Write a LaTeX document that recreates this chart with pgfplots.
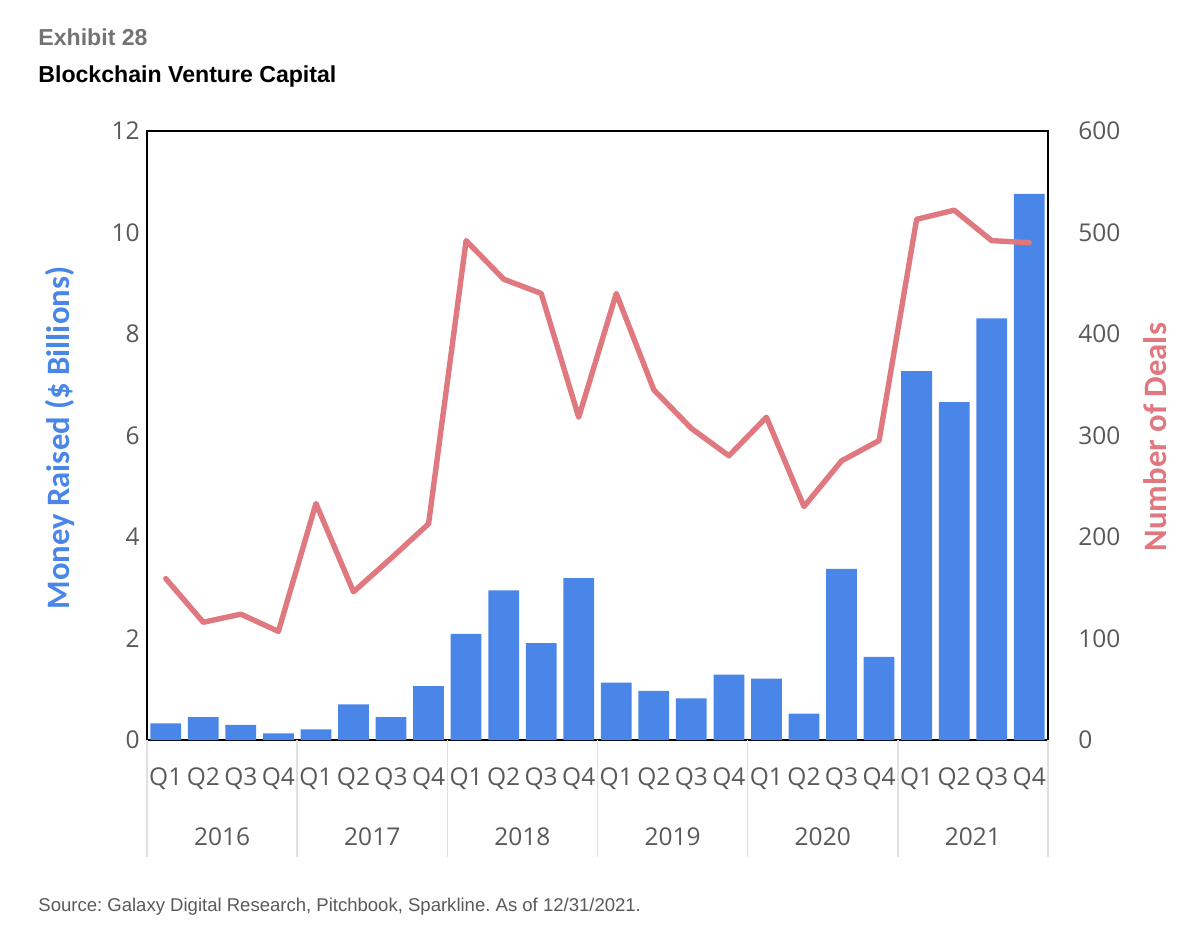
\documentclass[border=0pt]{standalone}
\usepackage{pgfplots}
\pgfplotsset{compat=1.18}
\usepackage{pgfplotstable}
\usepackage{fontspec}
\setmainfont{Open Sans}
\newfontfamily\labelfont{Carlito}
\newfontfamily\arialfont{Liberation Sans}
\frenchspacing

\definecolor{barblue}{HTML}{4A86E8}
\definecolor{dealred}{HTML}{E0787F}
\definecolor{tickgray}{HTML}{595959}
\definecolor{titlegray}{HTML}{737373}
\definecolor{sepgray}{HTML}{E0E0E0}

% quarter index, money raised ($B), number of deals
\pgfplotstableread{
idx money deals
0  0.33 159
1  0.45 116
2  0.30 124
3  0.13 107
4  0.21 233
5  0.70 146
6  0.45 179
7  1.06 213
8  2.09 492
9  2.95 454
10 1.91 440
11 3.19 318
12 1.13 440
13 0.97 345
14 0.82 307
15 1.29 280
16 1.21 318
17 0.52 230
18 3.37 275
19 1.64 295
20 7.27 513
21 6.66 522
22 8.31 492
23 10.76 490
}\vcdata

\begin{document}
% 1 px of the reference = 0.5bp; page is 600bp x 465bp
\begin{tikzpicture}
\path (0,0) rectangle (600bp,-465bp);

\node[anchor=base west, inner sep=0, text=titlegray,
  font=\arialfont\bfseries\fontsize{11.6}{14}\selectfont] at (19bp,-22.5bp) {Exhibit 28};
\node[anchor=base west, inner sep=0, text=black,
  font=\arialfont\bfseries\fontsize{11.6}{14}\selectfont] at (19bp,-41bp) {Blockchain Venture Capital};
\node[anchor=base west, inner sep=0, text=tickgray,
  font=\arialfont\fontsize{9.3}{11}\selectfont] at (19bp,-455.5bp)
  {Source: Galaxy Digital Research, Pitchbook, Sparkline. As of 12/31/2021.};

\begin{axis}[
  at={(73.5bp,-370bp)}, anchor=south west,
  scale only axis, width=450.5bp, height=304.5bp,
  ybar, bar width=0.82,
  xmin=-0.5, xmax=23.5, ymin=0, ymax=12,
  ytick={0,2,...,12},
  xtick={0,...,23},
  xticklabels={Q1,Q2,Q3,Q4,Q1,Q2,Q3,Q4,Q1,Q2,Q3,Q4,Q1,Q2,Q3,Q4,Q1,Q2,Q3,Q4,Q1,Q2,Q3,Q4},
  xtick pos=bottom, ytick pos=left,
  major tick length=0pt,
  axis line style={black, line width=1.2bp},
  tick label style={font=\fontsize{12.3}{14}\selectfont, text=tickgray},
  /pgf/number format/assume math mode=true,
  xticklabel style={anchor=base, yshift=-22.5bp, inner sep=0pt},
  yticklabel style={anchor=east, inner sep=0pt, xshift=-3.5bp},
  extra x ticks={-0.5,3.5,...,23.5},
  extra x tick labels={},
  extra x tick style={major tick length=58.5bp, tick align=outside,
    tick style={sepgray, line width=0.7bp}},
  clip=false,
]
\addplot[fill=barblue, draw=none] table[x=idx, y=money] {\vcdata};
\foreach \yr/\c in {2016/1.5,2017/5.5,2018/9.5,2019/13.5,2020/17.5,2021/21.5}{
  \edef\tmp{\noexpand\node[anchor=base, inner sep=0pt, text=tickgray,
    font=\noexpand\fontsize{12.3}{14}\noexpand\selectfont, yshift=-52.5bp]
    at (axis cs:\c,0) {\yr};}\tmp
}
\end{axis}

\begin{axis}[
  at={(73.5bp,-370bp)}, anchor=south west,
  scale only axis, width=450.5bp, height=304.5bp,
  xmin=-0.5, xmax=23.5, ymin=0, ymax=600,
  axis x line=none, axis y line*=right,
  ytick={0,100,...,600},
  major tick length=0pt,
  axis line style={black, line width=1.2bp},
  tick label style={font=\fontsize{12.3}{14}\selectfont, text=tickgray},
  /pgf/number format/assume math mode=true,
  yticklabel style={anchor=west, inner sep=0pt, xshift=15bp},
]
\addplot[dealred, line width=2.7bp, line join=round, line cap=round] table[x=idx, y=deals] {\vcdata};
\end{axis}

\node[rotate=90, text=barblue, font=\labelfont\bfseries\fontsize{16.4}{19}\selectfont] at (30bp,-219bp) {Money Raised (\$ Billions)};
\node[rotate=90, text=dealred, font=\labelfont\bfseries\fontsize{16.4}{19}\selectfont] at (577.5bp,-218.5bp) {Number of Deals};
\end{tikzpicture}
\end{document}
